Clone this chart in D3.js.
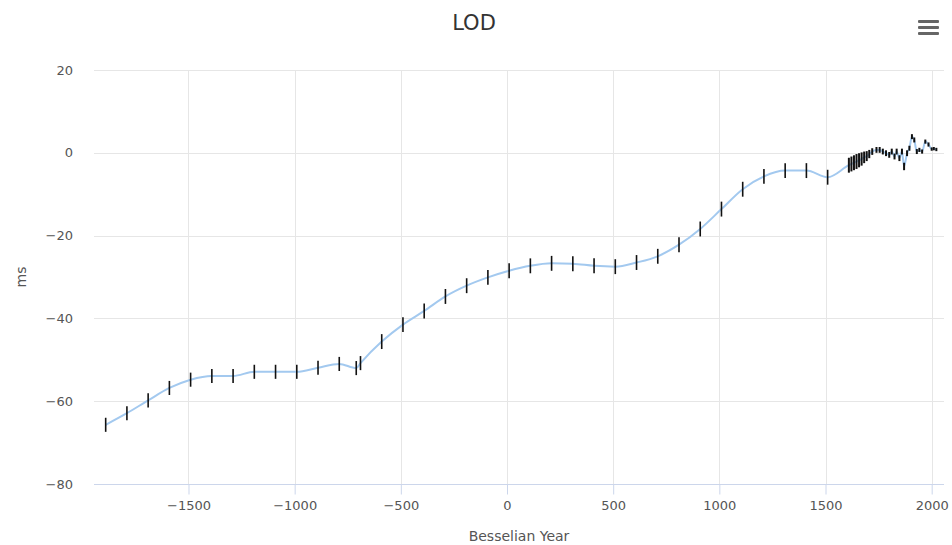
<!DOCTYPE html>
<html>
<head>
<meta charset="utf-8">
<script src="https://cdn.jsdelivr.net/npm/d3@7"></script>
<style>
  body { margin: 0; background: #fff; }
  text { font-family: "DejaVu Sans", sans-serif; }
</style>
</head>
<body>
<div id="graph"></div>
<script>
// LOD chart, highcharts-ish look

var years = [-1890, -1790, -1690, -1590, -1490, -1390, -1290, -1190, -1090, -990,
  -890, -790, -710, -690, -590, -490, -390, -290, -190, -90,
  10, 110, 210, 310, 410, 510, 610, 710, 810, 910,
  1010, 1110, 1210, 1310, 1410, 1510,
  1610, 1622, 1634, 1646, 1658, 1670, 1682, 1694, 1706, 1720, 1740, 1755,
  1770, 1785, 1800, 1812, 1825, 1835, 1848, 1860, 1870, 1884,
  1895, 1907, 1918, 1930, 1942, 1955, 1970, 1985, 2000, 2010, 2022];

var lod = [-65.7, -62.9, -59.8, -56.8, -54.8, -53.9, -53.9, -52.9, -52.9, -52.9,
  -51.9, -51.0, -52.0, -50.8, -45.6, -41.5, -38.2, -34.7, -32.1, -30.1,
  -28.5, -27.3, -26.7, -26.8, -27.3, -27.5, -26.5, -25.0, -22.2, -18.4,
  -13.6, -8.8, -5.7, -4.3, -4.3, -5.9,
  -3.0, -2.7, -2.4, -2.1, -1.8, -1.5, -1.1, -0.8, -0.3, 0.3, 0.7, 0.7,
  0.3, -0.1, -0.5, 0.3, -0.9, 0.3, -1.3, 0.3, -3.3, -0.1,
  1.1, 3.9, 3.1, 0.3, 0.7, 0.3, 2.7, 2.0, 0.9, 1.0, 0.8];

var lodErr = [1.7, 1.7, 1.7, 1.7, 1.7, 1.7, 1.7, 1.7, 1.7, 1.7,
  1.7, 1.7, 1.7, 1.7, 1.8, 1.8, 1.8, 1.8, 1.8, 1.8,
  1.8, 1.8, 1.8, 1.8, 1.8, 1.8, 1.8, 1.8, 1.8, 1.8,
  1.8, 1.8, 1.8, 1.8, 1.8, 1.8,
  1.8, 1.8, 1.8, 1.8, 1.7, 1.6, 1.4, 1.2, 1.0, 0.8, 0.7, 0.7,
  0.7, 0.7, 0.7, 0.7, 0.7, 0.7, 0.7, 0.7, 0.9, 0.7,
  0.6, 0.6, 0.6, 0.6, 0.5, 0.5, 0.5, 0.5, 0.4, 0.4, 0.4];

var xTicks = [-1500, -1000, -500, 0, 500, 1000, 1500, 2000];
var yTicks = [-80, -60, -40, -20, 0, 20];

var svgWidth = 952, svgHeight = 545;
var margin = {top: 70, right: 8, bottom: 61, left: 94};

var data = years.map(function(y, i) {
  return {x: y, v: lod[i], e: lodErr[i]};
});

var svg = d3.select('#graph').append('svg')
  .attr('width', svgWidth)
  .attr('height', svgHeight);

var width = svgWidth - margin.left - margin.right;
var height = svgHeight - margin.top - margin.bottom;

var g = svg.append('g')
  .attr('transform', 'translate(' + margin.left + ',' + margin.top + ')');

var x = d3.scaleLinear().domain([-1945, 2058]).range([0, width]);
var y = d3.scaleLinear().domain([-80, 20]).range([height, 0]);

// grid
g.append('g').selectAll('line.hgrid')
  .data(yTicks)
  .enter().append('line')
  .attr('x1', 0).attr('x2', width)
  .attr('y1', function(d) { return Math.round(y(d)) + 0.5; })
  .attr('y2', function(d) { return Math.round(y(d)) + 0.5; })
  .attr('stroke', '#e6e6e6');

g.append('g').selectAll('line.vgrid')
  .data(xTicks)
  .enter().append('line')
  .attr('y1', 0).attr('y2', height)
  .attr('x1', function(d) { return Math.round(x(d)) + 0.5; })
  .attr('x2', function(d) { return Math.round(x(d)) + 0.5; })
  .attr('stroke', '#e6e6e6');

// x axis
var xAxis = g.append('g')
  .attr('transform', 'translate(0,' + (height + 0.5) + ')')
  .call(d3.axisBottom(x).tickValues(xTicks).tickSize(10).tickPadding(6)
    .tickFormat(function(d) { return d < 0 ? '\u2212' + Math.abs(d) : d; }));
xAxis.select('.domain').attr('stroke', '#ccd6eb').attr('d', 'M0,0H' + width);
xAxis.selectAll('.tick line').attr('stroke', '#ccd6eb');
xAxis.selectAll('.tick text').attr('fill', '#555').style('font-size', '13px');

// y axis
var yAxis = g.append('g')
  .call(d3.axisLeft(y).tickValues(yTicks).tickSize(0).tickPadding(21)
    .tickFormat(function(d) { return d < 0 ? '\u2212' + Math.abs(d) : d; }));
yAxis.select('.domain').remove();
yAxis.selectAll('.tick text').attr('fill', '#555').style('font-size', '13px');

// spline
var line = d3.line()
  .x(function(d) { return x(d.x); })
  .y(function(d) { return y(d.v); })
  .curve(d3.curveMonotoneX);

g.append('path')
  .datum(data)
  .attr('fill', 'none')
  .attr('stroke', '#a3c9ef')
  .attr('stroke-width', 2)
  .attr('stroke-linejoin', 'round')
  .attr('d', line);

// error bars
g.append('g').selectAll('line.err')
  .data(data)
  .enter().append('line')
  .attr('x1', function(d) { return x(d.x); })
  .attr('x2', function(d) { return x(d.x); })
  .attr('y1', function(d) { return y(d.v - d.e); })
  .attr('y2', function(d) { return y(d.v + d.e); })
  .attr('stroke', '#111')
  .attr('stroke-width', function(d) { return d.x > 1600 ? 2 : 1.6; });

// titles
svg.append('text')
  .attr('x', 474).attr('y', 30)
  .attr('text-anchor', 'middle')
  .attr('fill', '#333')
  .style('font-size', '21px')
  .text('LOD');

svg.append('text')
  .attr('x', margin.left + width / 2).attr('y', 541)
  .attr('text-anchor', 'middle')
  .attr('fill', '#555')
  .style('font-size', '14px')
  .text('Besselian Year');

svg.append('text')
  .attr('transform', 'translate(26,' + (margin.top + height / 2) + ') rotate(-90)')
  .attr('text-anchor', 'middle')
  .attr('fill', '#555')
  .style('font-size', '14px')
  .text('ms');

// menu button
svg.append('g').selectAll('rect')
  .data([0, 1, 2])
  .enter().append('rect')
  .attr('x', 918).attr('width', 21).attr('height', 3).attr('rx', 1)
  .attr('y', function(d) { return 20 + d * 6; })
  .attr('fill', '#666');
</script>
</body>
</html>
